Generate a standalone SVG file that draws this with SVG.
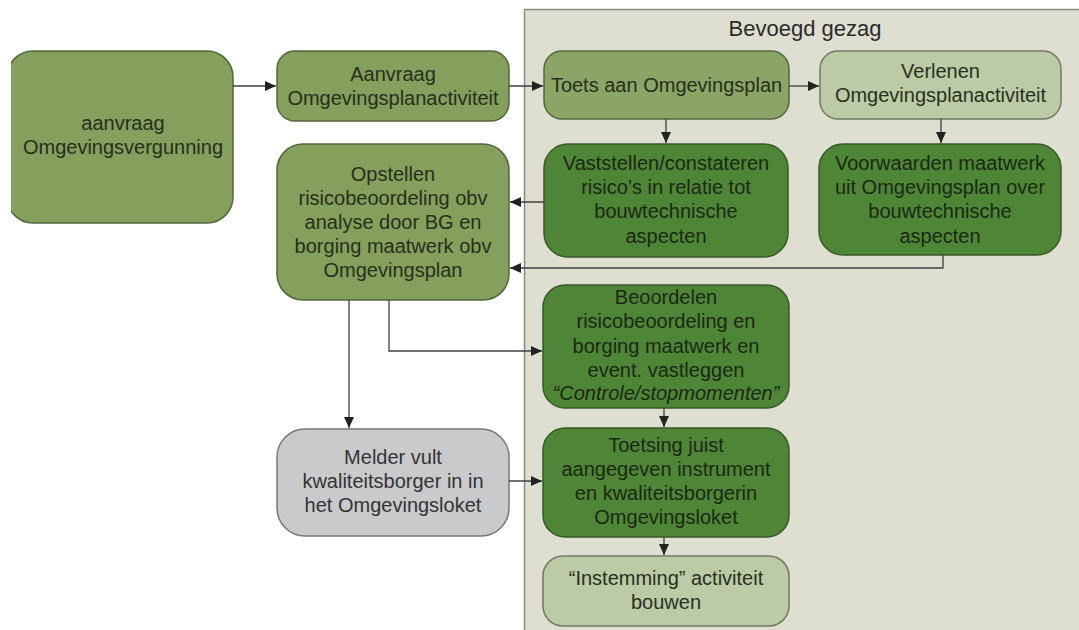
<svg xmlns="http://www.w3.org/2000/svg" width="1079" height="630" viewBox="0 0 1079 630">
  <style>
    text { font-family: "Liberation Sans", Arial, sans-serif; font-size: 20px; text-anchor: middle; fill: #26301d; }
    .title { font-size: 22px; fill: #2a2a2a; }
    .olive { fill: #859f5c; stroke: #55663f; stroke-width: 1.5; }
    .olive2 { fill: #8aa566; stroke: #55663f; stroke-width: 1.5; }
    .light { fill: #bccaa6; stroke: #6f7a62; stroke-width: 1.5; }
    .dark { fill: #4f8537; stroke: #3a5a2a; stroke-width: 1.5; }
    .gray { fill: #c9cacc; stroke: #77787a; stroke-width: 1.5; }
    .dk text { fill: #1b2913; }
    .gr text { fill: #333333; }
    .conn { fill: none; stroke: #3f3f3f; stroke-width: 1.3; marker-end: url(#arr); }
  </style>
  <defs>
    <marker id="arr" markerUnits="userSpaceOnUse" markerWidth="12" markerHeight="12" refX="11" refY="6" orient="auto">
      <path d="M0,1 L11,6 L0,11 z" fill="#222"/>
    </marker>
    <clipPath id="clipLeft">
      <rect x="11" y="0" width="300" height="630"/>
    </clipPath>
  </defs>

  <rect width="1079" height="630" fill="#ffffff"/>

  <g id="panel">
    <rect x="524.5" y="9.5" width="570" height="640" fill="#dedfd1" stroke="#8a8b80" stroke-width="1.5"/>
    <text class="title" x="805" y="36">Bevoegd gezag</text>
  </g>

  <g id="n-aanvraag-omgevingsvergunning">
    <rect class="olive" x="7" y="51" width="226" height="172" rx="26" clip-path="url(#clipLeft)"/>
    <text x="123" y="130">aanvraag</text>
    <text x="123" y="154">Omgevingsvergunning</text>
  </g>

  <g id="n-aanvraag-omgevingsplanactiviteit">
    <rect class="olive" x="277" y="51" width="232" height="70" rx="18"/>
    <text x="393" y="81">Aanvraag</text>
    <text x="393" y="105">Omgevingsplanactiviteit</text>
  </g>

  <g id="n-toets">
    <rect class="olive2" x="544" y="51" width="245" height="68" rx="18"/>
    <text x="666.5" y="92">Toets aan Omgevingsplan</text>
  </g>

  <g id="n-verlenen">
    <rect class="light" x="820" y="51" width="241" height="68" rx="18"/>
    <text x="940.5" y="78">Verlenen</text>
    <text x="940.5" y="102">Omgevingsplanactiviteit</text>
  </g>

  <g id="n-vaststellen" class="dk">
    <rect class="dark" x="544" y="144" width="244" height="113" rx="24"/>
    <text x="666" y="170">Vaststellen/constateren</text>
    <text x="666" y="194">risico’s in relatie tot</text>
    <text x="666" y="218">bouwtechnische</text>
    <text x="666" y="243">aspecten</text>
  </g>

  <g id="n-voorwaarden" class="dk">
    <rect class="dark" x="819" y="144" width="242" height="111" rx="24"/>
    <text x="940" y="170">Voorwaarden maatwerk</text>
    <text x="940" y="194">uit Omgevingsplan over</text>
    <text x="940" y="218">bouwtechnische</text>
    <text x="940" y="243">aspecten</text>
  </g>

  <g id="n-opstellen">
    <rect class="olive" x="277" y="144" width="232" height="156" rx="26"/>
    <text x="393" y="181">Opstellen</text>
    <text x="393" y="205">risicobeoordeling obv</text>
    <text x="393" y="229">analyse door BG en</text>
    <text x="393" y="253">borging maatwerk obv</text>
    <text x="393" y="277">Omgevingsplan</text>
  </g>

  <g id="n-beoordelen" class="dk">
    <rect class="dark" x="543" y="285" width="246" height="123" rx="22"/>
    <text x="666" y="304">Beoordelen</text>
    <text x="666" y="328">risicobeoordeling en</text>
    <text x="666" y="353">borging maatwerk en</text>
    <text x="666" y="377">event. vastleggen</text>
    <text x="666" y="400" font-style="italic">“Controle/stopmomenten”</text>
  </g>

  <g id="n-melder" class="gr">
    <rect class="gray" x="277" y="429" width="232" height="107" rx="28"/>
    <text x="393" y="464">Melder vult</text>
    <text x="393" y="488">kwaliteitsborger in in</text>
    <text x="393" y="512">het Omgevingsloket</text>
  </g>

  <g id="n-toetsing" class="dk">
    <rect class="dark" x="543" y="428" width="246" height="109" rx="22"/>
    <text x="666" y="452">Toetsing juist</text>
    <text x="666" y="476">aangegeven instrument</text>
    <text x="666" y="500">en kwaliteitsborgerin</text>
    <text x="666" y="524">Omgevingsloket</text>
  </g>

  <g id="n-instemming">
    <rect class="light" x="543" y="556" width="246" height="70" rx="20"/>
    <text x="666" y="585">“Instemming” activiteit</text>
    <text x="666" y="609">bouwen</text>
  </g>

  <g id="connectors">
    <path class="conn" d="M233,86 H276"/>
    <path class="conn" d="M509,86 H543"/>
    <path class="conn" d="M789,86 H819"/>
    <path class="conn" d="M666,119 V143"/>
    <path class="conn" d="M941,119 V143"/>
    <path class="conn" d="M544,202 H510"/>
    <path class="conn" d="M943,255 V268 H510"/>
    <path class="conn" d="M389,300 V351 H542"/>
    <path class="conn" d="M349,300 V428"/>
    <path class="conn" d="M664,408 V427"/>
    <path class="conn" d="M509,481 H542"/>
    <path class="conn" d="M664,537 V555"/>
  </g>
</svg>
